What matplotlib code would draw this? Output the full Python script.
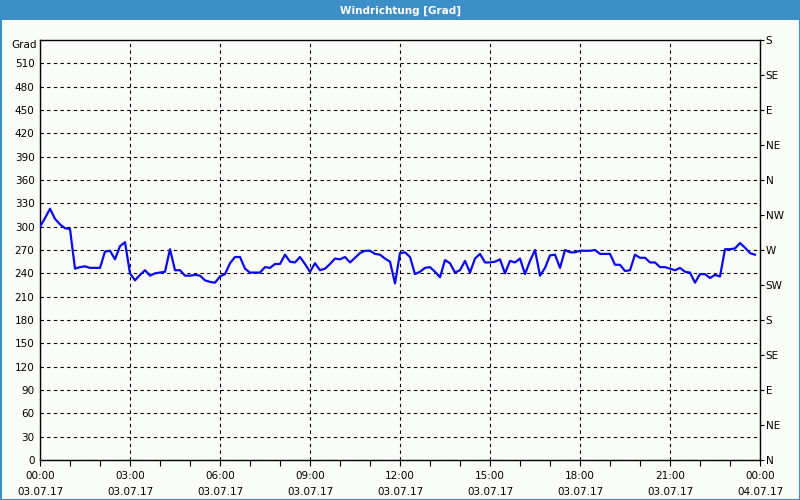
import matplotlib
matplotlib.use("Agg")
import matplotlib.pyplot as plt
from matplotlib.patches import Rectangle
import numpy as np

# 10-minute samples, 03.07.17 00:00 .. 23:50 (degrees)
wind_dir = [
    300, 311, 323, 310, 303, 298, 297, 246, 248, 249, 247, 247,
    247, 268, 269, 258, 275, 280, 240, 231, 238, 244, 237, 240,
    241, 242, 271, 244, 244, 237, 237, 238, 237, 231, 229, 228,
    236, 239, 253, 261, 261, 246, 241, 241, 241, 248, 247, 252,
    252, 264, 255, 254, 261, 252, 242, 253, 244, 246, 252, 259,
    258, 261, 254, 260, 266, 269, 269, 265, 264, 259, 255, 227,
    266, 267, 261, 239, 242, 247, 248, 242, 235, 257, 253, 241,
    244, 256, 241, 259, 265, 254, 254, 255, 258, 240, 256, 254,
    259, 239, 256, 270, 237, 247, 263, 264, 247, 270, 267, 267,
    269, 269, 269, 270, 265, 265, 265, 251, 251, 243, 244, 264,
    260, 260, 254, 254, 248, 248, 246, 244, 247, 242, 241, 228,
    239, 239, 234, 238, 236, 271, 271, 272, 279, 273, 266, 264,
]
sample_minutes = 10
left_ticks = list(range(0, 511, 30))
right_tick_vals = [0, 45, 90, 135, 180, 225, 270, 315, 360, 405, 450, 495, 540]
right_tick_labels = ["N", "NE", "E", "SE", "S", "SW", "W", "NW", "N", "NE", "E", "SE", "S"]
x_tick_hours = list(range(0, 25, 3))
x_tick_labels = ["00:00\n03.07.17", "03:00\n03.07.17", "06:00\n03.07.17",
                 "09:00\n03.07.17", "12:00\n03.07.17", "15:00\n03.07.17",
                 "18:00\n03.07.17", "21:00\n03.07.17", "00:00\n04.07.17"]
title = "Windrichtung [Grad]"
unit = "Grad"

hours = np.arange(len(wind_dir)) * sample_minutes / 60.0

bg = "#fafcfa"
blue_bar = "#3c8fc7"
fig = plt.figure(figsize=(8, 5), dpi=100, facecolor=bg)

# title bar and window frame
fig.patches.append(Rectangle((0, 1 - 20 / 500), 1, 20 / 500, transform=fig.transFigure,
                             facecolor=blue_bar, edgecolor="none", zorder=0))
fig.patches.append(Rectangle((0.5 / 800, 0.5 / 500), 1 - 1 / 800, 1 - 1 / 500,
                             transform=fig.transFigure, facecolor="none",
                             edgecolor=blue_bar, linewidth=1.5, zorder=0))
fig.text(0.5, 1 - 10.5 / 500, title, color="white", fontsize=7.5, fontweight="bold",
         ha="center", va="center", family="DejaVu Sans")

ax = fig.add_axes([40 / 800, 40 / 500, 720 / 800, 420 / 500])
ax.set_facecolor(bg)
ax.plot(hours, wind_dir, color="#0a0aeb", linewidth=1.6, zorder=3)

ax.set_xlim(0, 24)
ax.set_ylim(0, 540)

ax.set_yticks(left_ticks)
ax.set_yticklabels([str(v) for v in left_ticks])
ax.tick_params(axis="y", length=0, labelsize=7.5, pad=4)
ax.set_xticks(x_tick_hours)
ax.set_xticklabels(x_tick_labels, linespacing=1.75)
ax.set_xticks(range(0, 25), minor=True)
ax.tick_params(axis="x", which="both", direction="out", length=4, width=0.8,
               labelsize=7.5, pad=4)

ax.grid(True, which="major", axis="both", color="black", linestyle=(0, (3, 3)),
        linewidth=0.8)
for s in ax.spines.values():
    s.set_color("black")
    s.set_linewidth(1.0)

ax.text(-0.005, 534, unit, transform=ax.get_yaxis_transform(), ha="right",
        va="center", fontsize=7.5)

ax2 = ax.twinx()
ax2.set_ylim(0, 540)
ax2.set_yticks(right_tick_vals)
ax2.set_yticklabels(right_tick_labels)
ax2.tick_params(axis="y", direction="out", length=3, width=0.8, labelsize=7.5, pad=1)
for s in ax2.spines.values():
    s.set_visible(False)

fig.savefig("out.png", dpi=100, facecolor=bg)
